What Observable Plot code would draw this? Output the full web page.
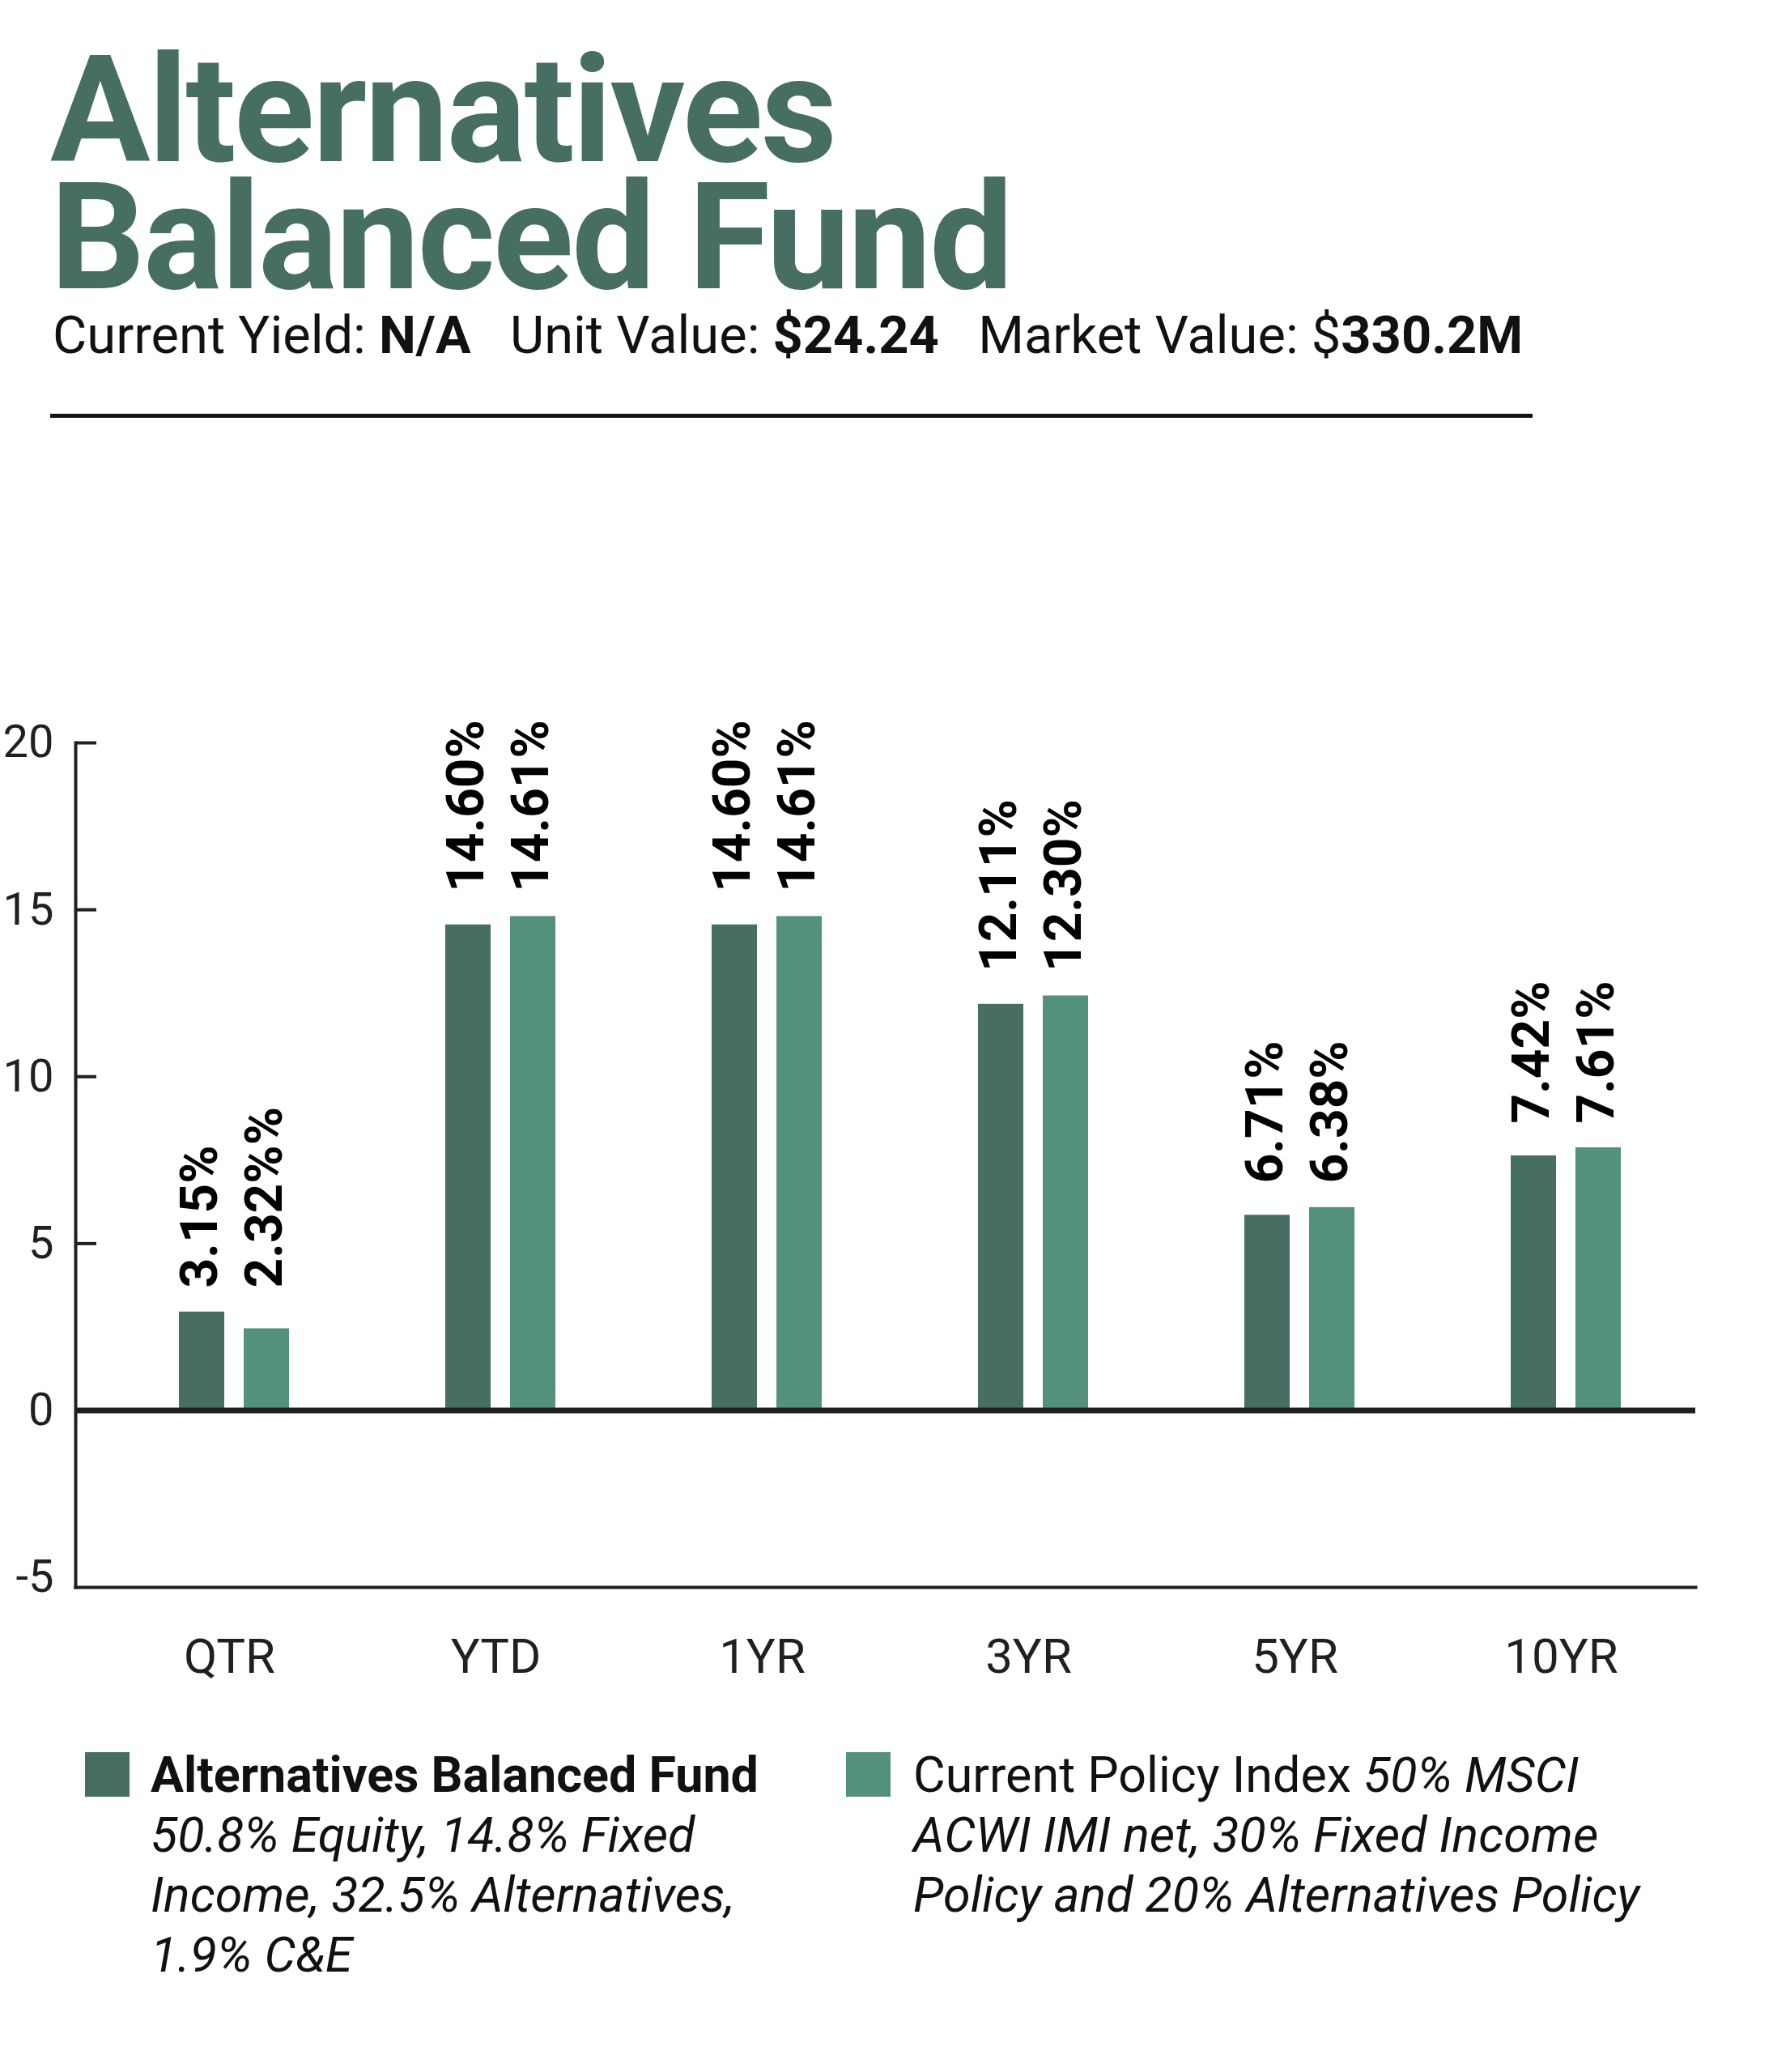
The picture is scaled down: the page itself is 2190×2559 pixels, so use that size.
<!DOCTYPE html>
<html><head><meta charset="utf-8">
<script src="https://cdn.jsdelivr.net/npm/d3@7"></script>
<script src="https://cdn.jsdelivr.net/npm/@observablehq/plot@0.6"></script>
<style>
body{margin:0;background:#fff;font-family:Roboto,sans-serif;color:#111;}
#page{position:relative;width:2190px;height:2559px;overflow:hidden;background:#fff;}
.title{position:absolute;left:62px;font-size:184px;line-height:157px;height:157px;font-weight:700;color:#466e62;letter-spacing:-2.5px;white-space:nowrap;}
#sub{position:absolute;left:65px;top:382px;font-size:65px;line-height:65px;white-space:pre;color:#111;}
#sub b{font-weight:700;}
#rule{position:absolute;left:62px;top:510.5px;width:1831px;height:5px;background:#111;}
#chart{position:absolute;left:0;top:540px;}
.leg{position:absolute;top:2155px;font-size:61px;line-height:74px;white-space:nowrap;color:#111;}
.sw{position:absolute;top:2164px;width:55px;height:55px;}
</style>
</head>
<body>
<div id="page">
  <div class="title" style="top:57.6px">Alternatives</div>
  <div class="title" style="top:214.6px">Balanced Fund</div>
  <div id="sub">Current Yield: <b>N/A</b>   Unit Value: <b>$24.24</b>   Market Value: $<b>330.2M</b></div>
  <div id="rule"></div>
  <div id="chart"></div>
  <div id="legend"></div>
</div>
<script>
const categories = ["QTR", "YTD", "1YR", "3YR", "5YR", "10YR"];
const seriesNames = ["Alternatives Balanced Fund", "Current Policy Index"];
const seriesColors = ["#466e62", "#53917b"];
const fundValues = [2.95, 14.55, 14.55, 12.17, 5.85, 7.63];
const indexValues = [2.45, 14.80, 14.80, 12.42, 6.08, 7.87];
const fundLabels = ["3.15%", "14.60%", "14.60%", "12.11%", "6.71%", "7.42%"];
const indexLabels = ["2.32%%", "14.61%", "14.61%", "12.30%", "6.38%", "7.61%"];
const yTicks = [-5, 0, 5, 10, 15, 20];
const yTickMarks = [5, 10, 15, 20];
const yDomain = [-5.3, 20];
const fundNoteLines = ["50.8% Equity, 14.8% Fixed", "Income, 32.5% Alternatives,", "1.9% C&E"];
const indexNoteLines = ["50% MSCI", "ACWI IMI net, 30% Fixed Income", "Policy and 20% Alternatives Policy"];

const fundRows = categories.map((c, i) => ({cat: c, value: fundValues[i], label: fundLabels[i], top: Math.max(fundValues[i], indexValues[i])}));
const indexRows = categories.map((c, i) => ({cat: c, value: indexValues[i], label: indexLabels[i], top: Math.max(fundValues[i], indexValues[i])}));

const ink = "#231f20";
const chart = Plot.plot({
  width: 2190,
  height: 1570,
  marginTop: 377,
  marginBottom: 150,
  marginLeft: 93,
  marginRight: 96,
  style: {fontFamily: "Roboto, sans-serif", color: ink, background: "transparent"},
  x: {domain: categories, range: [122, 2100], paddingInner: 0.588, paddingOuter: 0.297},
  y: {domain: yDomain},
  marks: [
    Plot.barY(fundRows, {x: "cat", y: "value", fill: seriesColors[0], insetRight: 80}),
    Plot.barY(indexRows, {x: "cat", y: "value", fill: seriesColors[1], insetLeft: 80}),
    Plot.frame({anchor: "left", stroke: ink, strokeWidth: 4}),
    Plot.frame({anchor: "bottom", stroke: ink, strokeWidth: 4}),
    Plot.ruleY([0], {stroke: ink, strokeWidth: 7}),
    Plot.axisY(yTickMarks, {tickSize: 26, dx: 26, fill: "none", stroke: ink, strokeWidth: 4, label: null}),
    Plot.axisY(yTicks, {tickSize: 0, tickPadding: 27, fontSize: 56, label: null, tickFormat: d => String(d)}),
    Plot.axisX({tickSize: 0, tickPadding: 63, fontSize: 60, label: null, dx: -6}),
    Plot.text(fundRows, {x: "cat", y: "top", text: "label", rotate: -90, textAnchor: "start", lineAnchor: "middle", dx: -42, dy: -30, fontSize: 64, fontWeight: 700, fill: "#000"}),
    Plot.text(indexRows, {x: "cat", y: "top", text: "label", rotate: -90, textAnchor: "start", lineAnchor: "middle", dx: 38, dy: -30, fontSize: 64, fontWeight: 700, fill: "#000"})
  ]
});
document.getElementById("chart").appendChild(chart);

// Legend
const legend = document.getElementById("legend");
const esc = s => s.replace(/&/g, "&amp;").replace(/</g, "&lt;");
const legItems = [
  {sw: 104.5, tx: 186, html: `<b>${esc(seriesNames[0])}</b><br><i>${fundNoteLines.map(esc).join("<br>")}</i>`},
  {sw: 1045, tx: 1128, html: `${esc(seriesNames[1])} <i>${esc(indexNoteLines[0])}<br>${indexNoteLines.slice(1).map(esc).join("<br>")}</i>`}
];
legItems.forEach((it, i) => {
  const s = document.createElement("div");
  s.className = "sw";
  s.style.left = it.sw + "px";
  s.style.background = seriesColors[i];
  legend.appendChild(s);
  const t = document.createElement("div");
  t.className = "leg";
  t.style.left = it.tx + "px";
  t.innerHTML = it.html;
  legend.appendChild(t);
});
</script>
</body></html>
